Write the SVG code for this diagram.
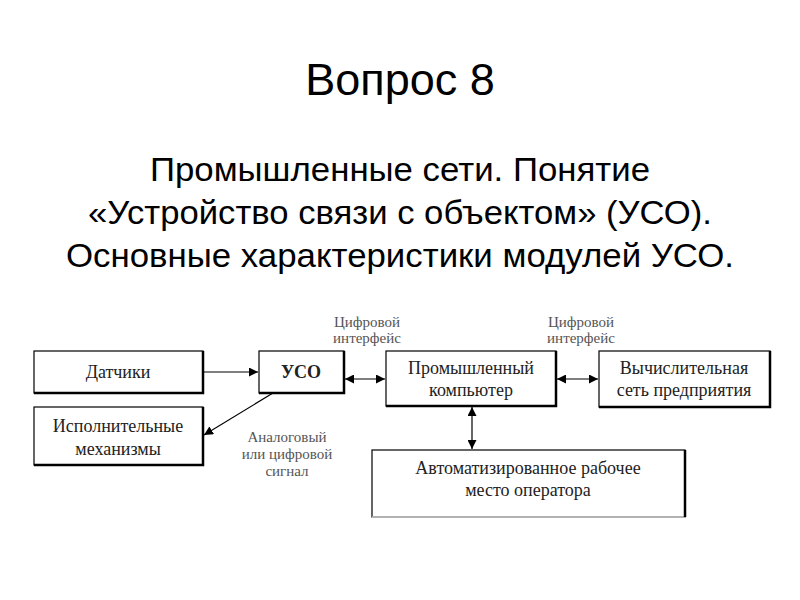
<svg xmlns="http://www.w3.org/2000/svg" width="800" height="600" viewBox="0 0 800 600">
<defs>
<marker id="ah" viewBox="0 0 10 10" refX="10" refY="5" markerWidth="9" markerHeight="9" markerUnits="userSpaceOnUse" orient="auto-start-reverse">
<path d="M0,0 L10,5 L0,10 z" fill="#000"/>
</marker>
<style>
.title{font-family:"Liberation Sans",Arial,sans-serif;font-size:45px;fill:#000;text-anchor:middle}
.sub{font-family:"Liberation Sans",Arial,sans-serif;font-size:33px;fill:#000;text-anchor:middle}
.box{fill:#fff;stroke:#000;stroke-width:1.2}
.sh{stroke:#000;stroke-width:2.5;fill:none}
.bt{font-family:"Liberation Serif","Times New Roman",serif;font-size:18px;fill:#222;text-anchor:middle}
.lbl{font-family:"Liberation Serif","Times New Roman",serif;font-size:15px;fill:#555;text-anchor:middle}
.con{stroke:#000;stroke-width:1.2;fill:none}
</style>
</defs>
<rect width="800" height="600" fill="#fff"/>
<text class="title" x="400" y="95">Вопрос 8</text>
<text class="sub" x="400" y="181" textLength="500" lengthAdjust="spacingAndGlyphs">Промышленные сети. Понятие</text>
<text class="sub" x="400" y="224" textLength="624" lengthAdjust="spacingAndGlyphs">«Устройство связи с объектом» (УСО).</text>
<text class="sub" x="400" y="267" textLength="668" lengthAdjust="spacingAndGlyphs">Основные характеристики модулей УСО.</text>

<g id="n-datchiki">
<rect class="box" x="34" y="351" width="169" height="42"/>
<polyline class="sh" points="203,351 203,393 34,393"/>
<text class="bt" x="118" y="378">Датчики</text>
</g>
<g id="n-uso">
<rect class="box" x="259" y="351" width="85" height="42"/>
<polyline class="sh" points="344,351 344,393 259,393"/>
<text class="bt" x="301" y="378" font-weight="bold">УСО</text>
</g>
<g id="n-ispoln">
<rect class="box" x="34" y="407" width="169" height="58"/>
<polyline class="sh" points="203,407 203,465 34,465"/>
<text class="bt" x="118" y="432">Исполнительные</text>
<text class="bt" x="118" y="455">механизмы</text>
</g>
<g id="n-pk">
<rect class="box" x="386" y="351" width="170" height="55"/>
<polyline class="sh" points="556,351 556,406 386,406"/>
<text class="bt" x="471" y="374">Промышленный</text>
<text class="bt" x="471" y="396">компьютер</text>
</g>
<g id="n-vs">
<rect class="box" x="599" y="351" width="171" height="56"/>
<polyline class="sh" points="770,351 770,407 599,407"/>
<text class="bt" x="684" y="374">Вычислительная</text>
<text class="bt" x="684" y="396">сеть предприятия</text>
</g>
<g id="n-arm">
<rect x="372" y="450" width="313" height="67" fill="#fff" stroke="#000" stroke-width="1.2"/>
<line x1="372" y1="517" x2="685" y2="517" stroke="#ccc" stroke-width="1.5"/>
<line x1="685" y1="450" x2="685" y2="517" stroke="#000" stroke-width="2.5"/>
<text class="bt" x="528" y="474">Автоматизированное рабочее</text>
<text class="bt" x="528" y="496">место оператора</text>
</g>

<g id="connectors">
<line class="con" x1="203" y1="372" x2="258" y2="372" marker-end="url(#ah)"/>
<line class="con" x1="345" y1="379" x2="385" y2="379" marker-start="url(#ah)" marker-end="url(#ah)"/>
<line class="con" x1="557" y1="379" x2="598" y2="379" marker-start="url(#ah)" marker-end="url(#ah)"/>
<line class="con" x1="472" y1="407" x2="472" y2="449" marker-start="url(#ah)" marker-end="url(#ah)"/>
<line class="con" x1="273" y1="393" x2="204" y2="435" marker-end="url(#ah)"/>
</g>

<g id="labels">
<text class="lbl" x="367" y="327">Цифровой</text>
<text class="lbl" x="367" y="343">интерфейс</text>
<text class="lbl" x="581" y="327">Цифровой</text>
<text class="lbl" x="581" y="343">интерфейс</text>
<text class="lbl" x="287" y="442">Аналоговый</text>
<text class="lbl" x="287" y="459">или цифровой</text>
<text class="lbl" x="287" y="476">сигнал</text>
</g>
</svg>
